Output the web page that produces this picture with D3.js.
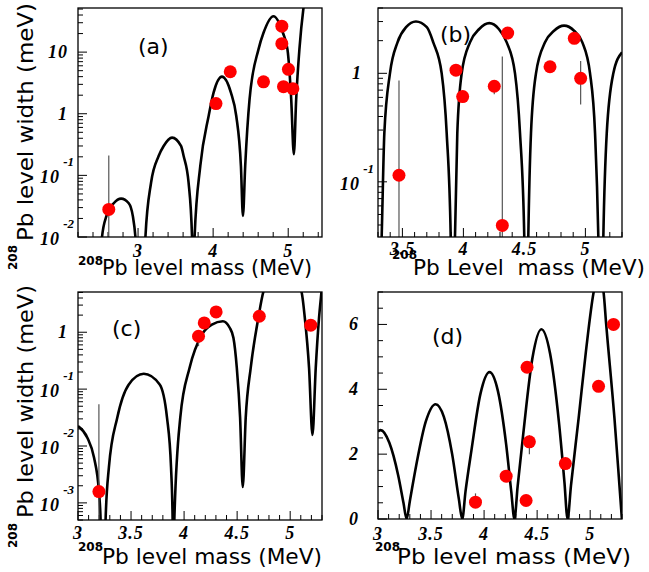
<!DOCTYPE html>
<html><head><meta charset="utf-8">
<script src="https://cdn.jsdelivr.net/npm/d3@7"></script>
<style>body{margin:0;background:#fff} svg{display:block}</style>
</head><body>
<svg id="chart" width="649" height="572"></svg>
<script>
// ---------- Panel (a): log width vs mass ----------
const aCurveE = [2.47,2.52,2.579,2.676,2.774,2.876,2.93,2.965,3.04,3.098,3.173,3.274,3.341,3.453,3.572,3.607,3.673,3.719,3.735,3.753,3.829,3.94,4.006,4.117,4.237,4.308,4.37,4.397,4.427,4.485,4.604,4.671,4.804,4.929,4.99,5.04,5.075,5.106,5.149,5.203,5.25];
const aCurveW = [1e-4,0.01,0.022,0.0353,0.042,0.0353,0.022,0.01,1e-4,0.01,0.076,0.206,0.30,0.41,0.30,0.206,0.076,0.01,1e-4,0.01,0.142,0.92,2.2,4.0,2.2,0.92,0.142,0.022,0.142,1.71,11.1,20.6,38.3,20.6,11.1,1.71,0.22,1.71,11.1,52,120];
const aPtE = [2.61,4.038,4.228,4.671,4.915,4.915,5.003,4.937,5.062];
const aPtW = [0.028,1.46,4.8,3.3,26.4,13.7,5.25,2.75,2.55];
const aErrLo = [0.001,null,null,null,null,null,null,null,null];
const aErrHi = [0.21,null,null,null,null,null,null,null,null];
const aXTicks = [3,4,5];
const aXLabels = ["3","4","5"];
const aYTicks = [0.01,0.1,1,10];
const aYBase = ["10","10","1","10"];
const aYExp = ["-2","-1","",""];

// ---------- Panel (b) ----------
const bCurveE = [3.30,3.33,3.352,3.398,3.46,3.53,3.611,3.70,3.753,3.822,3.863,3.896,3.913,3.931,3.95,3.986,4.054,4.13,4.212,4.29,4.355,4.423,4.464,4.499,4.515,4.532,4.554,4.595,4.669,4.743,4.825,4.907,4.975,5.038,5.079,5.106,5.127,5.147,5.175,5.229,5.30];
const bCurveW = [0.003,0.031,0.281,1.0,1.93,2.66,3.0,2.66,1.93,1.0,0.281,0.031,0.001,0.031,0.281,1.0,1.93,2.56,2.9,2.56,1.93,1.0,0.281,0.031,0.001,0.031,0.281,1.0,1.93,2.47,2.75,2.47,1.93,1.0,0.281,0.031,0.001,0.031,0.281,1.0,1.56];
const bPtE = [3.472,3.939,3.994,4.253,4.363,4.319,4.71,4.909,4.961];
const bPtW = [0.115,1.07,0.61,0.76,2.35,0.0396,1.15,2.1,0.90];
const bErrLo = [0.001,null,null,0.64,null,0.001,null,null,0.515];
const bErrHi = [0.86,null,null,null,null,1.43,null,null,1.3];
const bXTicks = [3.5,4,4.5,5];
const bXLabels = ["3.5","4","4.5","5"];
const bYTicks = [0.1,1];
const bYBase = ["10","1"];
const bYExp = ["-1",""];

// ---------- Panel (c) ----------
const cCurveE = [3.0,3.088,3.151,3.197,3.213,3.235,3.260,3.291,3.37,3.479,3.62,3.77,3.839,3.877,3.892,3.90,3.908,3.964,4.052,4.168,4.262,4.365,4.43,4.465,4.497,4.528,4.553,4.581,4.628,4.70,4.747,4.93,5.107,5.138,5.178,5.21,5.241,5.272,5.295,5.31];
const cCurveW = [0.0224,0.014,0.00625,0.0016,5e-4,1e-6,5e-4,0.00418,0.0315,0.121,0.186,0.121,0.0315,0.00418,5e-4,1e-6,5e-4,0.0315,0.237,0.91,1.36,1.56,1.2,0.8,0.237,0.0315,0.0019,0.0315,0.237,1.79,5.1,20,5.1,1.79,0.237,0.0156,0.237,1.79,5.1,10];
const cPtE = [3.197,4.136,4.19,4.302,4.709,5.194];
const cPtW = [0.00158,0.85,1.46,2.28,1.91,1.33];
const cErrLo = [0.0001,0.57,null,null,null,null];
const cErrHi = [0.054,null,null,null,null,null];
const cXTicks = [3,3.5,4,4.5,5];
const cXLabels = ["3","3.5","4","4.5","5"];
const cYTicks = [0.001,0.01,0.1,1];
const cYBase = ["10","10","10","1"];
const cYExp = ["-3","-2","-1",""];

// ---------- Panel (d): linear ----------
const dCurveE = [3.0,3.025,3.107,3.19,3.24,3.27,3.30,3.36,3.45,3.543,3.621,3.699,3.762,3.794,3.825,3.88,3.965,4.051,4.13,4.208,4.256,4.286,4.316,4.37,4.455,4.54,4.622,4.705,4.757,4.787,4.819,4.891,4.96,5.033,5.08,5.126,5.151,5.229,5.276,5.299];
const dCurveW = [2.7,2.74,2.35,1.35,0.5,0,0.55,1.65,3.0,3.54,3.15,2.0,0.62,0,0.85,2.1,3.85,4.53,3.95,2.3,0.85,0,1.0,2.65,4.95,5.85,5.1,3.0,1.15,0,1.03,3.1,5.17,7.0,7.6,7.0,6.0,3.1,1.03,0];
const dPtE = [3.919,4.208,4.405,4.427,4.396,4.766,5.079,5.22];
const dPtW = [0.52,1.32,4.68,2.38,0.57,1.71,4.09,6.0];
const dErrLo = [null,null,null,2.0,null,null,null,null];
const dErrHi = [0.79,null,null,2.58,null,null,null,null];
const dXTicks = [3,3.5,4,4.5,5];
const dXLabels = ["3","3.5","4","4.5","5"];
const dYTicks = [0,2,4,6];
const dYBase = ["0","2","4","6"];
const dYExp = ["","","",""];

const svg = d3.select('#chart');
const defs = svg.append('defs');
const TICK_FONT = "'Liberation Serif', 'DejaVu Serif', serif";
const TITLE_FONT = "'DejaVu Sans', 'Liberation Sans', sans-serif";

function tickText(g, x, y, anchor, size, txt) {
  return g.append('text').attr('x', x).attr('y', y).attr('text-anchor', anchor)
    .attr('font-family', TICK_FONT).attr('font-style', 'italic').attr('font-weight', 'bold')
    .attr('font-size', size).attr('letter-spacing', size > 14 ? 1 : 0).text(txt);
}

function drawPanel(p) {
  const x = d3.scaleLinear().domain(p.xDomain).range([p.L, p.R]);
  const y = (p.log ? d3.scaleLog() : d3.scaleLinear()).domain(p.yDomain).range([p.B, p.T]);
  const g = svg.append('g');
  const clipId = 'clip-' + p.id;
  defs.append('clipPath').attr('id', clipId).append('rect')
    .attr('x', p.L).attr('y', p.T).attr('width', p.R - p.L).attr('height', p.B - p.T);

  // x ticks (inside)
  const step = p.xMinorStep;
  const k0 = Math.ceil(p.xDomain[0] / step - 1e-6), k1 = Math.floor(p.xDomain[1] / step + 1e-6);
  const minorX = d3.range(k0, k1 + 1).map(k => +(k * step).toFixed(4))
    .filter(v => !p.xTicks.some(t => Math.abs(t - v) < 1e-6));
  const tk = g.append('g').attr('stroke', '#000').attr('stroke-width', 1);
  minorX.forEach(v => tk.append('line').attr('x1', x(v)).attr('x2', x(v)).attr('y1', p.B).attr('y2', p.B - 5));
  p.xTicks.forEach(v => tk.append('line').attr('x1', x(v)).attr('x2', x(v)).attr('y1', p.B).attr('y2', p.B - 9));

  // y ticks
  let minorY = [];
  if (p.log) {
    const e0 = Math.floor(Math.log10(p.yDomain[0])), e1 = Math.ceil(Math.log10(p.yDomain[1]));
    for (let e = e0; e <= e1; e++) for (let m = 2; m <= 9; m++) {
      const v = m * Math.pow(10, e);
      if (v >= p.yDomain[0] && v <= p.yDomain[1]) minorY.push(v);
    }
  } else {
    minorY = d3.range(0, p.yDomain[1] + 1e-6, 0.5).filter(v => !p.yTicks.includes(v));
  }
  minorY.forEach(v => tk.append('line').attr('x1', p.L).attr('x2', p.L + 5).attr('y1', y(v)).attr('y2', y(v)));
  p.yTicks.forEach(v => tk.append('line').attr('x1', p.L).attr('x2', p.L + 9).attr('y1', y(v)).attr('y2', y(v)));

  // curve
  const line = d3.line()
    .x(i => x(p.curveE[i])).y(i => y(p.curveW[i]))
    .curve(d3.curveMonotoneX);
  g.append('path').datum(d3.range(p.curveE.length)).attr('d', line)
    .attr('fill', 'none').attr('stroke', '#000').attr('stroke-width', 2.6)
    .attr('clip-path', `url(#${clipId})`);

  // error bars
  const eb = g.append('g').attr('clip-path', `url(#${clipId})`).attr('stroke', '#555').attr('stroke-width', 1.2);
  p.ptE.forEach((e, i) => {
    const lo = p.errLo[i], hi = p.errHi[i];
    if (lo == null && hi == null) return;
    const y1 = y(lo == null ? p.ptW[i] : lo), y2 = y(hi == null ? p.ptW[i] : hi);
    eb.append('line').attr('x1', x(e)).attr('x2', x(e)).attr('y1', y1).attr('y2', y2);
  });

  // points
  g.append('g').selectAll('circle').data(d3.range(p.ptE.length)).join('circle')
    .attr('cx', i => x(p.ptE[i])).attr('cy', i => y(p.ptW[i])).attr('r', 6.5).attr('fill', '#ff0000');

  // frame
  g.append('rect').attr('x', p.L).attr('y', p.T).attr('width', p.R - p.L).attr('height', p.B - p.T)
    .attr('fill', 'none').attr('stroke', '#000').attr('stroke-width', 1.3);

  // x tick labels
  p.xTicks.forEach((v, i) => tickText(g, x(v), p.B + p.xLabDy, 'middle', 18, p.xLabels[i]));
  // y tick labels
  p.yTicks.forEach((v, i) => {
    const yy = y(v);
    if (p.yExp[i]) {
      tickText(g, p.L - 18, yy + 8, 'end', 18, p.yBase[i]);
      tickText(g, p.L - 4, yy - 9, 'end', 13, p.yExp[i]);
    } else {
      tickText(g, p.L - p.plainOff, yy + 6, 'end', 18, p.yBase[i]);
    }
  });

  // x title
  g.append('text').attr('x', p.xt.supX).attr('y', p.xt.supY).attr('font-family', TITLE_FONT)
    .attr('font-weight', 'bold').attr('font-size', 12).text('208');
  g.append('text').attr('x', p.xt.x).attr('y', p.xt.y).attr('font-family', TITLE_FONT)
    .attr('font-size', 22).attr('textLength', p.xt.len).attr('lengthAdjust', 'spacingAndGlyphs')
    .style('white-space', 'pre').text(p.xt.text);

  // y title (rotated)
  if (p.yt) {
    g.append('text').attr('transform', `translate(${p.yt.supX},${p.yt.supY}) rotate(-90)`)
      .attr('font-family', TITLE_FONT).attr('font-weight', 'bold').attr('font-size', 12).text('208');
    g.append('text').attr('transform', `translate(${p.yt.x},${p.yt.y}) rotate(-90)`)
      .attr('font-family', TITLE_FONT).attr('font-size', 22)
      .attr('textLength', p.yt.len).attr('lengthAdjust', 'spacingAndGlyphs').text(p.yt.text);
  }

  // panel label
  g.append('text').attr('x', p.lab.x).attr('y', p.lab.y).attr('font-family', TITLE_FONT)
    .attr('font-size', 22).text(p.lab.text);
}

drawPanel({
  id: 'a', L: 78, R: 322, T: 8, B: 237, xDomain: [2.2, 5.45], yDomain: [0.01, 52], log: true,
  xMinorStep: 0.2, xTicks: aXTicks, xLabels: aXLabels, xLabDy: 20,
  yTicks: aYTicks, yBase: aYBase, yExp: aYExp, plainOff: 10,
  curveE: aCurveE, curveW: aCurveW, ptE: aPtE, ptW: aPtW, errLo: aErrLo, errHi: aErrHi,
  xt: { supX: 78, supY: 265, x: 102, y: 275, len: 210, text: 'Pb level mass (MeV)' },
  yt: { supX: 17, supY: 270, x: 33, y: 241, len: 238, text: 'Pb level width (meV)' },
  lab: { x: 138, y: 54, text: '(a)' }
});
drawPanel({
  id: 'b', L: 378, R: 622, T: 8, B: 237, xDomain: [3.3, 5.3], yDomain: [0.031, 4], log: true,
  xMinorStep: 0.1, xTicks: bXTicks, xLabels: bXLabels, xLabDy: 18,
  yTicks: bYTicks, yBase: bYBase, yExp: bYExp, plainOff: 16,
  curveE: bCurveE, curveW: bCurveW, ptE: bPtE, ptW: bPtW, errLo: bErrLo, errHi: bErrHi,
  xt: { supX: 392, supY: 259, x: 413, y: 275, len: 232, text: 'Pb Level\u00a0 mass (MeV)' },
  yt: null,
  lab: { x: 440, y: 42, text: '(b)' }
});
drawPanel({
  id: 'c', L: 78, R: 322, T: 292, B: 520, xDomain: [3.0, 5.3], yDomain: [5e-4, 5.1], log: true,
  xMinorStep: 0.1, xTicks: cXTicks, xLabels: cXLabels, xLabDy: 19,
  yTicks: cYTicks, yBase: cYBase, yExp: cYExp, plainOff: 10,
  curveE: cCurveE, curveW: cCurveW, ptE: cPtE, ptW: cPtW, errLo: cErrLo, errHi: cErrHi,
  xt: { supX: 78, supY: 551, x: 102, y: 564, len: 220, text: 'Pb level mass (MeV)' },
  yt: { supX: 17, supY: 548, x: 33, y: 518, len: 233, text: 'Pb level width (meV)' },
  lab: { x: 112, y: 336, text: '(c)' }
});
drawPanel({
  id: 'd', L: 378, R: 622, T: 292, B: 519, xDomain: [3.0, 5.3], yDomain: [0, 7], log: false,
  xMinorStep: 0.1, xTicks: dXTicks, xLabels: dXLabels, xLabDy: 21,
  yTicks: dYTicks, yBase: dYBase, yExp: dYExp, plainOff: 19,
  curveE: dCurveE, curveW: dCurveW, ptE: dPtE, ptW: dPtW, errLo: dErrLo, errHi: dErrHi,
  xt: { supX: 375, supY: 551, x: 397, y: 564, len: 234, text: 'Pb level mass (MeV)' },
  yt: null,
  lab: { x: 432, y: 344, text: '(d)' }
});
</script>
</body></html>
